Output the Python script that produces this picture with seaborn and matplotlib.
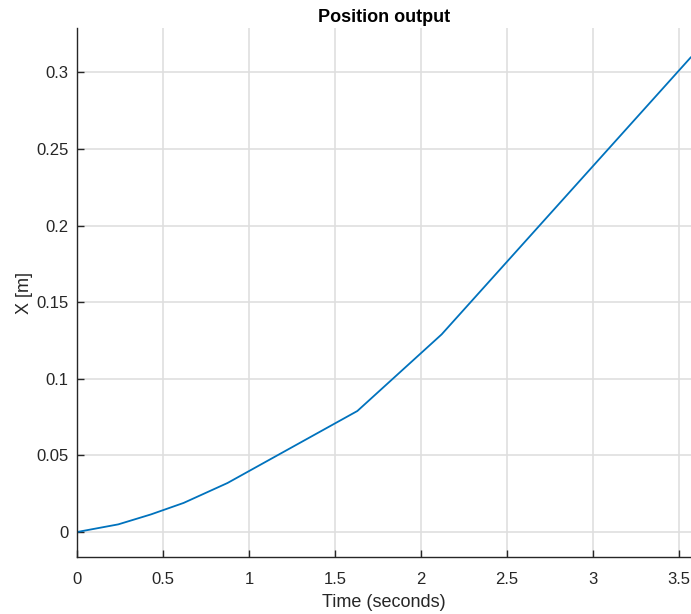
import numpy as np
import pandas as pd
import seaborn as sns
import matplotlib
matplotlib.use("Agg")
import matplotlib.pyplot as plt

time_s = [0.0, 0.24, 0.43, 0.62, 0.875, 1.63, 2.12, 3.57]
position_m = [0.0, 0.005, 0.0115, 0.019, 0.032, 0.079, 0.129, 0.31]
x_ticks = [0, 0.5, 1, 1.5, 2, 2.5, 3, 3.5]
x_tick_labels = ["0", "0.5", "1", "1.5", "2", "2.5", "3", "3.5"]
y_ticks = [0, 0.05, 0.1, 0.15, 0.2, 0.25, 0.3]
y_tick_labels = ["0", "0.05", "0.1", "0.15", "0.2", "0.25", "0.3"]

sns.set_theme(style="whitegrid")
plt.rcParams['font.family'] = ['Liberation Sans', 'DejaVu Sans']

df = pd.DataFrame({"t": time_s, "x": position_m})

fig = plt.figure(figsize=(6.91, 6.14), dpi=100)
ax = fig.add_axes([77/691, 1-557/614, 1-77/691, (557-28)/614])
sns.lineplot(data=df, x="t", y="x", ax=ax, color="#0072BD", linewidth=1.3)

ax.set_xlim(0, 3.57)
ax.set_ylim(-0.0163, 0.329)
ax.set_xticks(x_ticks)
ax.set_xticklabels(x_tick_labels)
ax.set_yticks(y_ticks)
ax.set_yticklabels(y_tick_labels)

ax.grid(True, color="#dfdfdf", linewidth=1.2)
ax.set_axisbelow(True)
for s in ["top", "right"]:
    ax.spines[s].set_visible(False)
for s in ["left", "bottom"]:
    ax.spines[s].set_visible(True)
    ax.spines[s].set_color("#262626")
    ax.spines[s].set_linewidth(1.0)
ax.set_facecolor("white")
ax.tick_params(axis="both", direction="in", length=5, width=1.0, color="#262626",
               labelsize=12, labelcolor="#262626", left=True, bottom=True)
ax.tick_params(axis="x", pad=11)
ax.tick_params(axis="y", pad=6)

ax.set_xlabel("Time (seconds)", fontsize=13, color="#262626", labelpad=5)
ax.set_ylabel("X [m]", fontsize=13, color="#262626", labelpad=2.5)
ax.set_title("Position output", fontsize=13, fontweight="bold", color="black", pad=4.5)

fig.savefig("out.png", dpi=100, facecolor="white")
